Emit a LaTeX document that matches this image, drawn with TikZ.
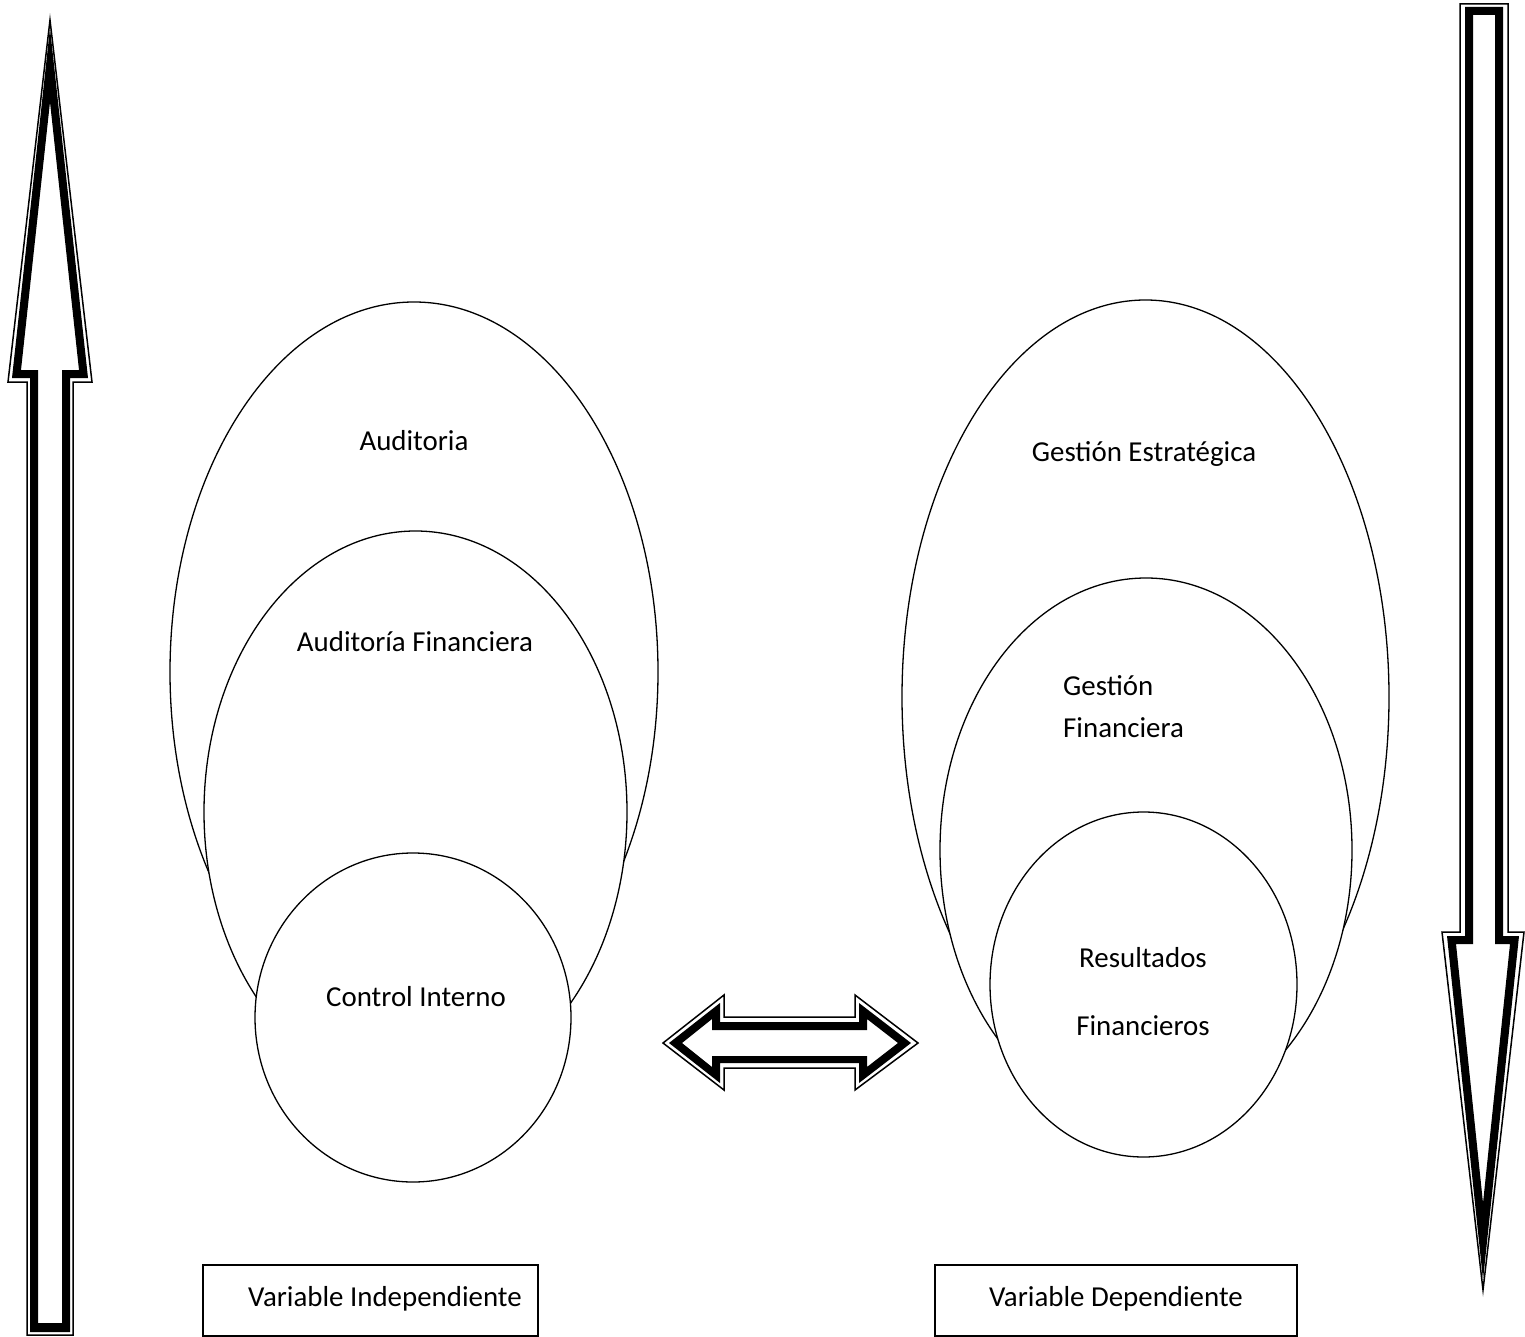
\documentclass[tikz,border=0pt]{standalone}
\usepackage{fontspec}
\setmainfont{Carlito}
\usetikzlibrary{shapes.geometric}
\begin{document}
\begin{tikzpicture}[x=1pt,y=-1pt,
  outline/.style={line width=1.5pt, line join=miter},
  band/.style={fill=black, even odd rule},
  oval/.style={ellipse, draw, line width=1.3pt, fill=white, inner sep=0pt},
  lbl/.style={inner sep=0pt, anchor=base, font=\fontsize{28.9}{35}\selectfont},
  varbox/.style={draw, line width=1.4pt, inner sep=0pt}]
\useasboundingbox (0,0) rectangle (1525,1337);

% left group of nested ovals
\node[oval, minimum width=488pt, minimum height=740pt] (audit) at (414,672) {};
\node[oval, minimum width=423pt, minimum height=562pt] (auditfin) at (415.5,812) {};
\node[oval, minimum width=316pt, minimum height=329pt] (control) at (413,1017.5) {};

% right group of nested ovals
\node[oval, minimum width=487pt, minimum height=794pt] (gestest) at (1145.5,697) {};
\node[oval, minimum width=412pt, minimum height=544pt] (gestfin) at (1146,850) {};
\node[oval, minimum width=307pt, minimum height=345pt] (result) at (1143.5,984.5) {};

% labels
\node[lbl] (t1) at (414,450) {Auditoria};
\node[lbl] (t2) at (415,651) {Auditoría Financiera};
\node[lbl] (t3) at (416,1006) {Control Interno};
\node[lbl] (t4) at (1144,461) {Gestión Estratégica};
\node[lbl, anchor=base west] (t5) at (1063,695) {Gestión};
\node[lbl, anchor=base west] (t6) at (1063,737) {Financiera};
\node[lbl] (t7) at (1143,967) {Resultados};
\node[lbl] (t8) at (1143,1035) {Financieros};

% variable boxes
\node[varbox, minimum width=335pt, minimum height=71pt] (vi) at (370.5,1300.5) {};
\node[lbl] (vitext) at (385,1306) {Variable Independiente};
\node[varbox, minimum width=362pt, minimum height=71pt] (vd) at (1116,1300.5) {};
\node[lbl] (vdtext) at (1116,1306) {Variable Dependiente};

% upward block arrow (thin outer line + thick inner band)
\draw[outline] (50,20) -- (92,382) -- (73,382) -- (73,1335) -- (27,1335) -- (27,382) -- (8,382) -- cycle;
\fill[band] (50,28) -- (88,378) -- (70,378) -- (70,1332) -- (30,1332) -- (30,378) -- (12,378) -- cycle
  (50,102) -- (79,370) -- (62,370) -- (62,1323) -- (38,1323) -- (38,370) -- (21,370) -- cycle;

% downward block arrow
\draw[outline] (1460,4) -- (1508,4) -- (1508,932) -- (1524,932) -- (1483,1290) -- (1442,932) -- (1460,932) -- cycle;
\fill[band] (1465,7) -- (1503,7) -- (1503,936) -- (1519,936) -- (1483,1280) -- (1447,936) -- (1465,936) -- cycle
  (1473,15) -- (1495,15) -- (1495,944) -- (1510,944) -- (1483,1203) -- (1456,944) -- (1473,944) -- cycle;

% two-headed block arrow between the groups
\draw[outline] (663,1043) -- (724,995) -- (724,1017) -- (855,1017) -- (855,995) -- (918,1043) -- (855,1090) -- (855,1068) -- (724,1068) -- (724,1090) -- cycle;
\fill[band] (669,1043) -- (720,1003) -- (720,1022) -- (859,1022) -- (859,1003) -- (911,1043) -- (859,1083) -- (859,1063) -- (720,1063) -- (720,1083) -- cycle
  (682,1043) -- (712,1019) -- (712,1030) -- (867,1030) -- (867,1019) -- (898,1043) -- (867,1067) -- (867,1056) -- (712,1056) -- (712,1067) -- cycle;
\end{tikzpicture}
\end{document}
